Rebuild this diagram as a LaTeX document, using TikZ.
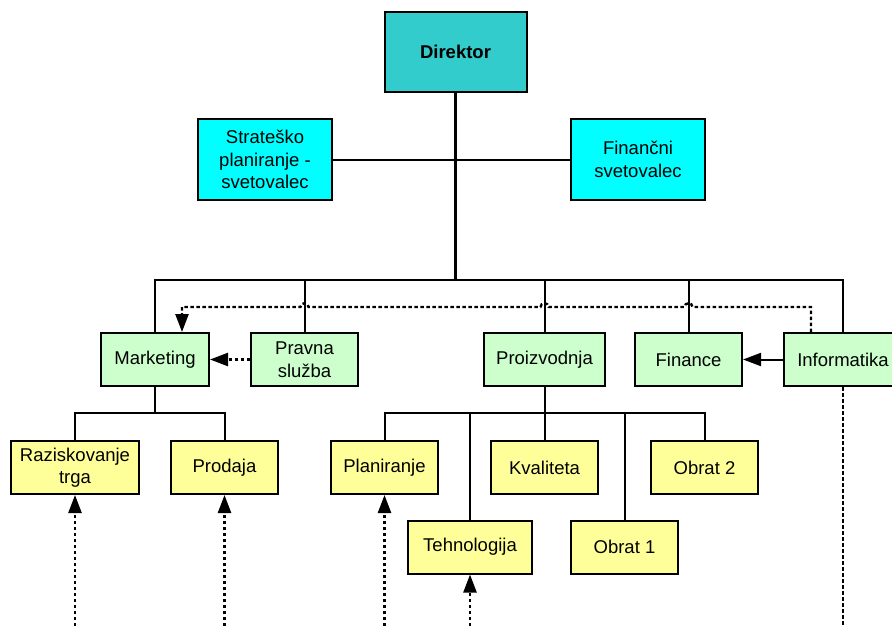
\documentclass[tikz,border=0pt]{standalone}
\usepackage{fontspec}
\setmainfont{Liberation Sans}
\usetikzlibrary{arrows.meta}
\definecolor{dirfill}{HTML}{33CCCC}
\definecolor{advfill}{HTML}{00FFFF}
\definecolor{deptfill}{HTML}{CCFFCC}
\definecolor{unitfill}{HTML}{FFFF99}
\tikzset{
  box/.style={draw=black, line width=2pt, inner sep=0pt, align=center,
    font=\fontsize{18.5}{22.5}\selectfont},
  dirbox/.style={box, fill=dirfill, minimum width=142pt, minimum height=80pt,
    font=\fontsize{18.5}{22.5}\selectfont\bfseries},
  advbox/.style={box, fill=advfill, minimum width=134pt, minimum height=81pt},
  deptbox/.style={box, fill=deptfill, minimum height=53pt},
  unitbox/.style={box, fill=unitfill, minimum height=53pt},
  link/.style={line width=2pt},
  mainlink/.style={line width=3pt},
  dotlink/.style={line width=2.4pt, dash pattern=on 3.5pt off 2.5pt},
  tip/.style={-{Triangle[length=18pt,width=13pt]}}
}
\begin{document}
\begin{tikzpicture}[x=1pt, y=-1pt]
\useasboundingbox (0,0) rectangle (892,626);

% management
\node[dirbox] (dir) at (455.5,52) {Direktor};
\node[advbox] (strat) at (265,159.5) {Strateško\\planiranje -\\svetovalec};
\node[advbox] (fin) at (638,159.5) {Finančni\\svetovalec};

% departments
\node[deptbox, minimum width=108pt] (mkt) at (155,359.5) {Marketing};
\node[deptbox, minimum width=107pt] (prav) at (304.5,359.5) {Pravna\\služba};
\node[deptbox, minimum width=121pt] (proiz) at (544.5,359.5) {Proizvodnja};
\node[deptbox, minimum width=107pt] (finance) at (688.5,359.5) {Finance};
\node[deptbox, minimum width=118pt] (info) at (843,359.5) {Informatika};

% units
\node[unitbox, minimum width=128pt] (razis) at (75,467.5) {Raziskovanje\\trga};
\node[unitbox, minimum width=107pt] (prod) at (224.5,467.5) {Prodaja};
\node[unitbox, minimum width=107pt] (plan) at (384.5,467.5) {Planiranje};
\node[unitbox, minimum width=107pt] (kval) at (544.5,467.5) {Kvaliteta};
\node[unitbox, minimum width=107pt] (obr2) at (704.5,467.5) {Obrat 2};
\node[unitbox, minimum width=124pt] (tehn) at (470,547) {Tehnologija};
\node[unitbox, minimum width=107pt] (obr1) at (624.5,547) {Obrat 1};

% junction points
\coordinate (busL) at (155,280);
\coordinate (busR) at (843,280);
\coordinate (mj) at (155,413);
\coordinate (pj) at (544.5,413);
\coordinate (bottom) at (0,632);

% solid hierarchy lines
\draw[link] (strat.east) -- (fin.west);
\draw[link] (mkt.north) -- (busL) -- (busR) -- (info.north);
\draw[mainlink] (dir.south) -- (dir.south |- busL);
\draw[link] (prav.north) -- (prav.north |- busL);
\draw[link] (proiz.north) -- (proiz.north |- busL);
\draw[link] (finance.north) -- (finance.north |- busL);

\draw[link] (mkt.south) -- (mj);
\draw[link] (razis.north) |- (prod.north |- mj) -- (prod.north);

\draw[link] (proiz.south) -- (pj);
\draw[link] (plan.north) |- (obr2.north |- pj) -- (obr2.north);
\draw[link] (tehn.north) -- (tehn.north |- pj);
\draw[link] (kval.north) -- (kval.north |- pj);
\draw[link] (obr1.north) -- (obr1.north |- pj);

% horizontal arrows between departments
\draw[dotlink, tip] (prav.west) -- (mkt.east);
\draw[link, tip] (info.west) -- (finance.east);

% dotted line from Informatika back to Marketing, hopping over the drops
\draw[dotlink, tip] ([xshift=-32pt]info.north) -- (811,307)
  -- (692.5,307) .. controls (692.5,302) and (684.5,302) .. (684.5,307)
  -- (548.5,307) .. controls (548.5,302) and (540.5,302) .. (540.5,307)
  -- (308.5,307) .. controls (308.5,302) and (300.5,302) .. (300.5,307)
  -- (182,307) -- ([xshift=27pt]mkt.north);

% dotted lines running off the bottom
\draw[dotlink, tip] (razis.south |- bottom) -- (razis.south);
\draw[dotlink, tip] (prod.south |- bottom) -- (prod.south);
\draw[dotlink, tip] (plan.south |- bottom) -- (plan.south);
\draw[dotlink, tip] (tehn.south |- bottom) -- (tehn.south);
\draw[dotlink] (info.south) -- (info.south |- bottom);
\end{tikzpicture}
\end{document}
